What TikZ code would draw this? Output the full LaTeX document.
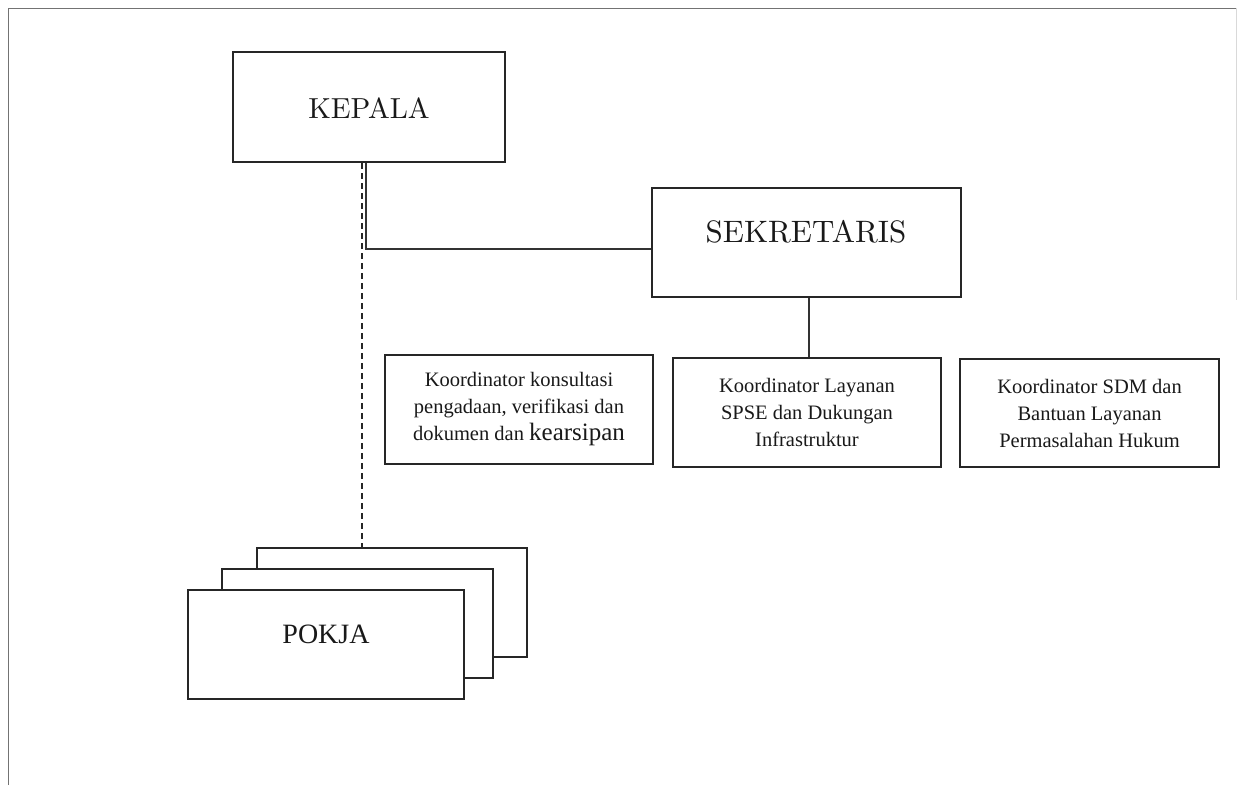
\documentclass[tikz,border=0pt]{standalone}
\usepackage{fontspec}
\newfontfamily\tnr{Liberation Serif}
\newfontfamily\lmten{lmroman10-regular.otf}
\begin{document}
\begin{tikzpicture}[x=1pt,y=-1pt,
  ink/.style={draw=black!85, line width=2pt},
  bigbox/.style={ink, rectangle, inner sep=0pt, fill=white},
  koord/.style={bigbox, minimum width=268pt, minimum height=109pt, align=center,
     text=black!90, font=\tnr\fontsize{20.5}{27}\selectfont},
  conn/.style={draw=black!80, line width=1.1pt},
  dashconn/.style={draw=black!85, line width=1.6pt, dash pattern=on 6pt off 4pt},
  frame/.style={draw=black!55, line width=1pt},
  title/.style={text=black!90, inner sep=0pt}]
\useasboundingbox (0,0) rectangle (1241,785);
% frame
\draw[frame] (8,785) -- (8,8) -- (1236,8);
\draw[draw=black!15, line width=0.8pt] (1236,8) -- (1236,300);

% KEPALA
\node[bigbox, minimum width=272pt, minimum height=110pt] (kepala) at (369,107) {};
\node[title, font=\lmten\fontsize{29}{34}\selectfont] (kepalat) at (369,108) {KEPALA};

% SEKRETARIS
\node[bigbox, minimum width=309pt, minimum height=109pt] (sek) at (806,242.5) {};
\node[title, font=\lmten\fontsize{31}{36}\selectfont] (sekt) at (806,232) {SEKRETARIS};

% coordinators
\node[koord] (k1) at (519,409.5) {Koordinator konsultasi\\pengadaan, verifikasi dan\\dokumen dan {\fontsize{25}{27}\selectfont kearsipan}};
\node[koord] (k2) at (807,412.5) {Koordinator Layanan\\SPSE dan Dukungan\\Infrastruktur};
\node[koord, minimum width=259pt, minimum height=108pt] (k3) at (1089.5,413) {Koordinator SDM dan\\Bantuan Layanan\\Permasalahan Hukum};

% POKJA stack
\node[bigbox, minimum width=270pt, minimum height=109pt] (pokja3) at (392,602.5) {};
\node[bigbox, minimum width=271pt, minimum height=109pt] (pokja2) at (357.5,623.5) {};
\node[bigbox, minimum width=276pt, minimum height=109pt] (pokja1) at (326,644.5) {};
\node[title, font=\tnr\fontsize{28}{32}\selectfont] (pokjat) at (326,634) {POKJA};

% connectors
\coordinate (j) at (366,249);
\coordinate (xd) at (362,0);
\coordinate (xs) at (809,0);
\draw[conn] (kepala.south -| j) -- (j) -- (j -| sek.west);
\draw[dashconn] (kepala.south -| xd) -- (pokja3.north -| xd);
\draw[conn] (sek.south -| xs) -- (k2.north -| xs);
\end{tikzpicture}
\end{document}
